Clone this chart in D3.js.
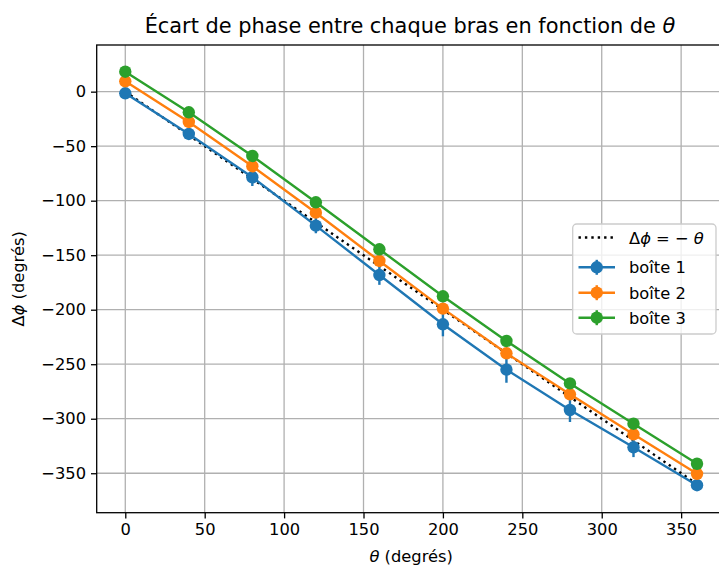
<!DOCTYPE html>
<html><head><meta charset="utf-8">
<script src="https://cdn.jsdelivr.net/npm/d3@7"></script>
<style>body{margin:0;background:#fff;}svg{display:block;font-family:"DejaVu Sans",sans-serif;}</style>
</head><body><svg id="c" width="719" height="568"></svg>
<script>
const theta = [0,40,80,120,160,200,240,280,320,360];
const boite1 = [-1.5,-38.8,-78.5,-122.9,-168.2,-213.4,-255,-292,-326.2,-361];
const boite2 = [9.5,-27.8,-68.4,-111,-155.3,-199,-240,-277.6,-314.3,-350.5];
const boite3 = [18.3,-18.9,-59,-101.5,-144.6,-187.7,-228.7,-267.6,-304.6,-341.3];
const err1 = [2,4,8,7,9,11,12,11,9,3];
const err2 = [2,2,3,3,3,3,3,3,3,3];
const err3 = [2,2,2,2,2,2,2,2,2,2];
const refTheta = [0,360];
const refPhi = [0,-360];
const xTicks = [0,50,100,150,200,250,300,350];
const yTicks = [0,-50,-100,-150,-200,-250,-300,-350];
const seriesNames = ["boîte 1","boîte 2","boîte 3"];
const colors = ["#1f77b4","#ff7f0e","#2ca02c"];

const L=96.7,R=725.6,T=45,B=512.7;
const x=d3.scaleLinear().domain([-18,378]).range([L,R]);
const y=d3.scaleLinear().domain([-386.2,42.8]).range([B,T]);
const svg=d3.select("#c");
const minusFmt=v=>v<0?"\u2212"+Math.abs(v):String(v);

// grid
const g=svg.append("g");
g.selectAll(".gx").data(xTicks).join("line").attr("x1",d=>x(d)).attr("x2",d=>x(d)).attr("y1",T).attr("y2",B).attr("stroke","#b0b0b0").attr("stroke-width",1.3);
g.selectAll(".gy").data(yTicks).join("line").attr("x1",L).attr("x2",R).attr("y1",d=>y(d)).attr("y2",d=>y(d)).attr("stroke","#b0b0b0").attr("stroke-width",1.3);

// axes
const xa=d3.axisBottom(x).tickValues(xTicks).tickSize(5.7).tickPadding(5).tickFormat(minusFmt);
const ya=d3.axisLeft(y).tickValues(yTicks).tickSize(5.7).tickPadding(5).tickFormat(minusFmt);
const gx=svg.append("g").attr("transform",`translate(0,${B})`).call(xa);
const gy=svg.append("g").attr("transform",`translate(${L},0)`).call(ya);
[gx,gy].forEach(a=>{a.select(".domain").remove();a.selectAll("line").attr("stroke","#000").attr("stroke-width",1.3);a.selectAll("text").attr("font-family","DejaVu Sans").attr("font-size",16.3).attr("fill","#000");});

// clip
svg.append("clipPath").attr("id","clip").append("rect").attr("x",L).attr("y",T).attr("width",R-L).attr("height",B-T);
const plot=svg.append("g").attr("clip-path","url(#clip)");

// reference dotted line
plot.append("path").datum(refTheta.map((t,i)=>[t,refPhi[i]]))
 .attr("d",d3.line().x(d=>x(d[0])).y(d=>y(d[1])))
 .attr("fill","none").attr("stroke","#000").attr("stroke-width",2.4).attr("stroke-dasharray","2.4,4");

const data=[boite1,boite2,boite3], errs=[err1,err2,err3];
data.forEach((vals,k)=>{
  const pts=theta.map((t,i)=>({t,v:vals[i],e:errs[k][i]}));
  const gg=plot.append("g");
  gg.append("path").datum(pts).attr("d",d3.line().x(d=>x(d.t)).y(d=>y(d.v)))
    .attr("fill","none").attr("stroke",colors[k]).attr("stroke-width",2.4);
  gg.selectAll("line").data(pts).join("line").attr("x1",d=>x(d.t)).attr("x2",d=>x(d.t))
    .attr("y1",d=>y(d.v-d.e)).attr("y2",d=>y(d.v+d.e)).attr("stroke",colors[k]).attr("stroke-width",2.4);
  gg.selectAll("circle").data(pts).join("circle").attr("cx",d=>x(d.t)).attr("cy",d=>y(d.v)).attr("r",6.2).attr("fill",colors[k]);
});

// spines
svg.append("rect").attr("x",L).attr("y",T).attr("width",R-L).attr("height",B-T).attr("fill","none").attr("stroke","#000").attr("stroke-width",1.3);

// title & labels
svg.append("text").attr("x",410).attr("y",33).attr("text-anchor","middle").attr("font-size",20.9).attr("fill","#000")
 .call(t=>{t.append("tspan").text("Écart de phase entre chaque bras en fonction de ");t.append("tspan").attr("font-style","italic").text("θ");});
svg.append("text").attr("x",(L+R)/2).attr("y",562).attr("text-anchor","middle").attr("font-size",16.3).attr("fill","#000")
 .call(t=>{t.append("tspan").attr("font-style","italic").text("θ");t.append("tspan").text(" (degrés)");});
svg.append("text").attr("transform",`translate(24,${(T+B)/2}) rotate(-90)`).attr("text-anchor","middle").attr("font-size",16.3).attr("fill","#000")
 .call(t=>{t.append("tspan").text("Δ");t.append("tspan").attr("font-style","italic").text("ϕ");t.append("tspan").text(" (degrés)");});

// legend
const lg=svg.append("g");
lg.append("rect").attr("x",572.7).attr("y",224).attr("width",143.3).attr("height",110).attr("rx",4)
  .attr("fill","#fff").attr("fill-opacity",0.8).attr("stroke","#cccccc").attr("stroke-width",1.3);
const hx1=578.5,hx2=615,tx=629;
const rows=[237.5,267.3,292.7,317.7];
lg.append("line").attr("x1",hx1).attr("x2",hx2).attr("y1",rows[0]).attr("y2",rows[0]).attr("stroke","#000").attr("stroke-width",2.4).attr("stroke-dasharray","2.4,4");
lg.append("text").attr("x",tx).attr("y",rows[0]+6).attr("font-size",16.3).attr("fill","#000")
 .call(t=>{t.append("tspan").text("Δ");t.append("tspan").attr("font-style","italic").text("ϕ");t.append("tspan").text(" = − ");t.append("tspan").attr("font-style","italic").text("θ");});
seriesNames.forEach((n,k)=>{
  const yy=rows[k+1];
  lg.append("line").attr("x1",hx1).attr("x2",hx2).attr("y1",yy).attr("y2",yy).attr("stroke",colors[k]).attr("stroke-width",2.4);
  lg.append("line").attr("x1",(hx1+hx2)/2).attr("x2",(hx1+hx2)/2).attr("y1",yy-7.5).attr("y2",yy+7.5).attr("stroke",colors[k]).attr("stroke-width",2.4);
  lg.append("circle").attr("cx",(hx1+hx2)/2).attr("cy",yy).attr("r",6.2).attr("fill",colors[k]);
  lg.append("text").attr("x",tx).attr("y",yy+6).attr("font-size",16.3).attr("fill","#000").text(n);
});
</script></body></html>
